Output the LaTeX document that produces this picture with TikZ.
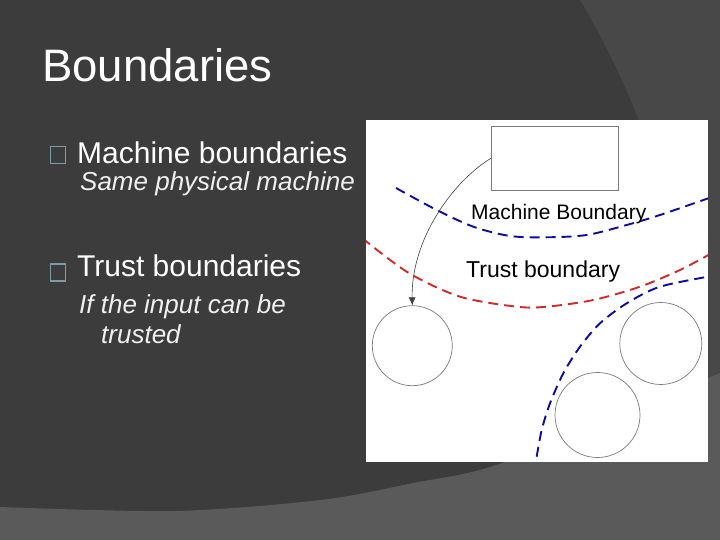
\documentclass[tikz,border=0pt]{standalone}
\usepackage{fontspec}
\setmainfont{Liberation Sans}
\usepackage{xcolor}
\usepackage{tikz}
\usetikzlibrary{arrows.meta,positioning}
\definecolor{bgdark}{HTML}{3C3C3C}
\definecolor{bgmid}{HTML}{484848}
\definecolor{bgband}{HTML}{5A5A5A}
\definecolor{bulletbox}{HTML}{7A9EA8}
\definecolor{mblue}{HTML}{0C0CA0}
\definecolor{tred}{HTML}{D42828}
\definecolor{shapegrey}{HTML}{7A7A7A}
\tikzset{
  slidetitle/.style={anchor=base west,inner sep=0pt,text=white,font=\fontsize{45.5}{54}\selectfont},
  lvlone/.style={anchor=base west,inner sep=0pt,text=white,font=\fontsize{30}{36}\selectfont},
  lvltwo/.style={anchor=base west,inner sep=0pt,text=white!94!black,align=left,
    font=\fontsize{26}{30}\selectfont\itshape},
  bbox/.style={draw=bulletbox,line width=1.6pt,minimum width=15pt,minimum height=17pt,inner sep=0pt},
  panel/.style={fill=white,minimum width=342pt,minimum height=342pt,inner sep=0pt},
  procbox/.style={draw=shapegrey,line width=.7pt,minimum width=127pt,minimum height=64pt,inner sep=0pt},
  procnode/.style={circle,draw=shapegrey,line width=.7pt,inner sep=0pt},
  bound/.style={dash pattern=on 10pt off 6pt,line width=1.9pt},
  blabel/.style={anchor=base west,inner sep=0pt,text=black},
  flow/.style={-{Latex[length=8pt,width=7pt]},line width=.6pt,draw=black!75}
}

\begin{document}
\begin{tikzpicture}[x=1pt,y=-1pt]
    \useasboundingbox (0,0) rectangle (720,540);
    % slide background
    \fill[bgmid] (0,0) rectangle (720,540);
    \fill[bgdark] (0,0) -- (580,0) .. controls (630,85) and (680,200) .. (700,380) -- (700,540) -- (0,540) -- cycle;
    \fill[bgband] (0,540) -- plot[smooth] coordinates {(0,507) (174,511) (321,500) (413,483) (505,462) (708,378) (720,373)} -- (720,540) -- cycle;
    % text column
    \node[slidetitle] (title) at (42,82) {Boundaries};
    \node[bbox] (mark1) at (58,155) {};
    \node[lvlone] (machine) at (77,164) {Machine boundaries};
    \node[lvltwo] (machinesub) at (80,191) {Same physical machine};
    \node[bbox] (mark2) at (58,272.5) {};
    \node[lvlone] (trust) at (77,276) {Trust boundaries};
    \node[lvltwo] (trustsub) at (79,343) {If the input can be\\\hspace*{22pt}trusted};
    % picture
    \node[panel] (panel) at (537,291) {};
    \node[procbox] (src) at (555.2,158) {};
    \node[procnode,minimum size=80pt] (inner) at (412.3,345.7) {};
    \node[procnode,minimum size=82pt] (peer) at (660.8,343.5) {};
    \node[procnode,minimum size=85pt] (remote) at (597.5,415) {};
    \begin{scope}
      \clip (panel.south west) rectangle (panel.north east);
      \draw[bound,mblue] plot[smooth] coordinates {(396,188) (436.7,210) (473.3,226.7) (510,236) (546.7,237.3) (586.7,235) (626.7,225) (660,215) (712,197)};
      \draw[bound,tred] plot[smooth] coordinates {(362,238) (408.3,272.7) (460,296.7) (516.7,306.7) (546.7,306.7) (593.3,300) (640,286.7) (680,270) (712,253)};
      \draw[bound,mblue] plot[smooth] coordinates {(536.7,456.7) (541.7,430) (550,403.3) (563.3,373.3) (580,346.7) (600,323.3) (626.7,303.3) (660,286.7) (712,276)};
    \end{scope}
    \node[blabel,font=\fontsize{21}{25}\selectfont] (mlabel) at (471,220) {Machine Boundary};
    \node[blabel,font=\fontsize{23}{27}\selectfont] (tlabel) at (466,277) {Trust boundary};
    \draw[flow] (src.west) .. controls (452,182) and (411,240) .. (inner.north);
\end{tikzpicture}
\end{document}
